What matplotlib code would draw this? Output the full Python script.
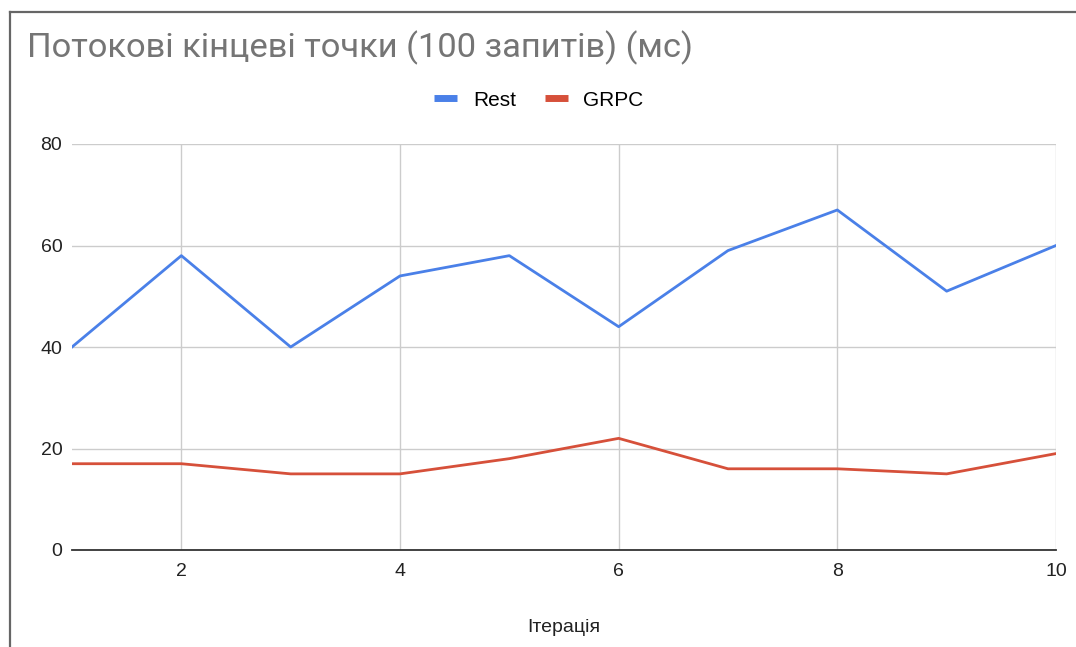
import matplotlib.pyplot as plt
from matplotlib.lines import Line2D

iterations = [1, 2, 3, 4, 5, 6, 7, 8, 9, 10]
rest = [40, 58, 40, 54, 58, 44, 59, 67, 51, 60]
grpc = [17, 17, 15, 15, 18, 22, 16, 16, 15, 19]

title = "Потокові кінцеві точки (100 запитів) (мс)"
xlabel = "Ітерація"

BLUE = "#4a80e8"
RED = "#d6503a"

plt.rcParams['font.family'] = ['Liberation Sans', 'DejaVu Sans']

fig = plt.figure(figsize=(10.76, 6.47), dpi=100)
ax = fig.add_axes([72 / 1076, 1 - 550 / 647, 984 / 1076, 406 / 647])

ax.plot(iterations, rest, color=BLUE, linewidth=2, label="Rest")
ax.plot(iterations, grpc, color=RED, linewidth=2, label="GRPC")

ax.set_xlim(1, 10)
ax.set_ylim(0, 80)
ax.set_xticks([2, 4, 6, 8, 10])
ax.set_yticks([0, 20, 40, 60, 80])
ax.grid(True, color="#cccccc", linewidth=1)
ax.set_axisbelow(True)
for side in ['left', 'right', 'top']:
    ax.spines[side].set_visible(False)
ax.spines['bottom'].set_color("#333333")
ax.spines['bottom'].set_linewidth(1.3)
ax.tick_params(length=0, labelsize=14, colors="#222222")
ax.tick_params(axis='y', pad=7)
ax.tick_params(axis='x', pad=9)

fig.text(564 / 1076, 1 - 628 / 647, xlabel, fontsize=14, color="#222222",
         ha='center', va='center')

fig.text(27 / 1076, 1 - 48 / 647, title, fontsize=24.8, color="#757575",
         va='center', ha='left', family=['Roboto', 'DejaVu Sans'])

handles = [Line2D([0], [0], color=BLUE, linewidth=5, solid_capstyle='butt'),
           Line2D([0], [0], color=RED, linewidth=5, solid_capstyle='butt')]
fig.legend(handles, ["Rest", "GRPC"], loc='center', ncol=2,
           bbox_to_anchor=(539 / 1076, 1 - 100 / 647), frameon=False,
           fontsize=15, handlelength=1.1, handletextpad=0.75, columnspacing=1.4)

# frame around the chart area
fig.add_artist(Line2D([10 / 1076, 1], [1 - 12 / 647, 1 - 12 / 647],
                      color="#666666", linewidth=1.6, transform=fig.transFigure))
fig.add_artist(Line2D([10 / 1076, 10 / 1076], [0, 1 - 12 / 647],
                      color="#666666", linewidth=1.6, transform=fig.transFigure))

fig.savefig("out.png", dpi=100)
